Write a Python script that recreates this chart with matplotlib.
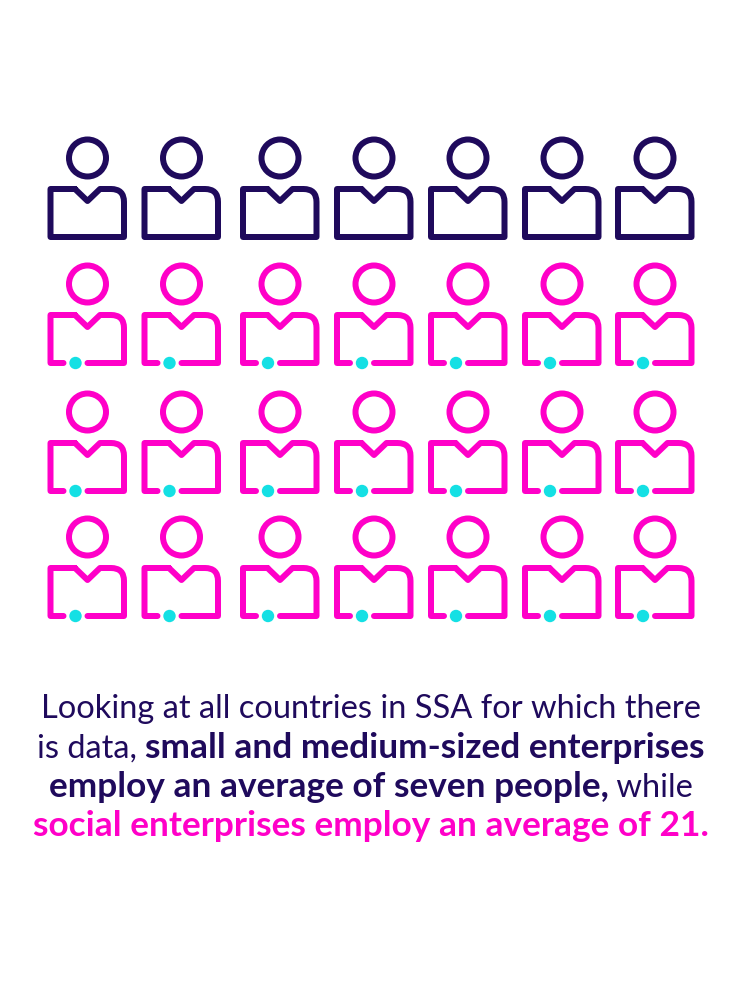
"""Pictogram: average number of employees, SMEs vs social enterprises in SSA."""
import matplotlib
matplotlib.use("Agg")
import matplotlib.pyplot as plt
from matplotlib.patches import Circle, PathPatch
from matplotlib.path import Path

# values
SME_EMPLOYEES = 7
SOCIAL_EMPLOYEES = 21
PER_ROW = 7

# text lines as (text, bold, colour key)
LINES = [
    [("Looking at all countries in SSA for which there", False, "navy")],
    [("is data, ", False, "navy"), ("small and medium-sized enterprises", True, "navy")],
    [("employ an average of seven people,", True, "navy"), (" while", False, "navy")],
    [("social enterprises employ an average of 21.", True, "pink")],
]

# layout, in pixels of the 750x1000 canvas
COL_X = [87.5, 181.5, 280, 374, 468, 562, 655]
ROW_Y = [158, 284, 412, 537]
LINE_Y = [718.5, 758, 797, 836]
COLORS = {"navy": "#1f0a5c", "pink": "#ff00c8", "dot": "#14e0e4"}
LW = 6 * 72 / 100


def person_path(cx, cy, gap):
    left, right = cx - 37, cx + 36.5
    top, bottom = cy + 31, cy + 79
    verts = [(cx - 12.5, top), (cx, top + 12), (cx + 12.5, top), (right - 13, top),
             (right, top), (right, top + 13), (right, bottom)]
    codes = [Path.MOVETO, Path.LINETO, Path.LINETO, Path.LINETO,
             Path.CURVE3, Path.CURVE3, Path.LINETO]
    if gap:
        # bottom edge is broken where the dot sits
        verts += [(cx, bottom), (cx - 24, bottom), (left, bottom), (left, top), (cx - 12.5, top)]
        codes += [Path.LINETO, Path.MOVETO, Path.LINETO, Path.LINETO, Path.LINETO]
    else:
        verts += [(left, bottom), (left, top), (cx - 12.5, top)]
        codes += [Path.LINETO, Path.LINETO, Path.LINETO]
    return Path(verts, codes)


def draw_person(ax, cx, cy, color, gap=False):
    ax.add_patch(Circle((cx, cy), 18.5, fill=False, ec=color, lw=LW))
    ax.add_patch(PathPatch(person_path(cx, cy, gap), fill=False, ec=color, lw=LW,
                           joinstyle="round", capstyle="round"))
    if gap:
        ax.add_patch(Circle((cx - 12, cy + 79), 6.2, fc=COLORS["dot"], ec="none", zorder=3))


fig = plt.figure(figsize=(7.5, 10), dpi=100, facecolor="white")
ax = fig.add_axes([0, 0, 1, 1])
ax.set_xlim(0, 750)
ax.set_ylim(1000, 0)
ax.axis("off")

total_rows = (SME_EMPLOYEES + SOCIAL_EMPLOYEES) // PER_ROW
for i in range(total_rows * PER_ROW):
    r, c = divmod(i, PER_ROW)
    if i < SME_EMPLOYEES:
        draw_person(ax, COL_X[c], ROW_Y[r], COLORS["navy"])
    else:
        draw_person(ax, COL_X[c], ROW_Y[r], COLORS["pink"], gap=True)

# text runs are measured so mixed weights sit centred on one line
fig.canvas.draw()
rend = fig.canvas.get_renderer()
for runs, y in zip(LINES, LINE_Y):
    items = []
    for s, bold, key in runs:
        t = ax.text(0, y, s.replace(" ", "\u00a0"), family="Lato",
                    fontsize=25.4 if bold else 23.5,
                    weight="bold" if bold else "normal", color=COLORS[key],
                    ha="left", va="baseline")
        items.append((t, t.get_window_extent(rend).width))
    x = 371 - sum(w for _, w in items) / 2
    for t, w in items:
        t.set_x(x)
        x += w

fig.savefig("out.png", dpi=100, facecolor="white")
